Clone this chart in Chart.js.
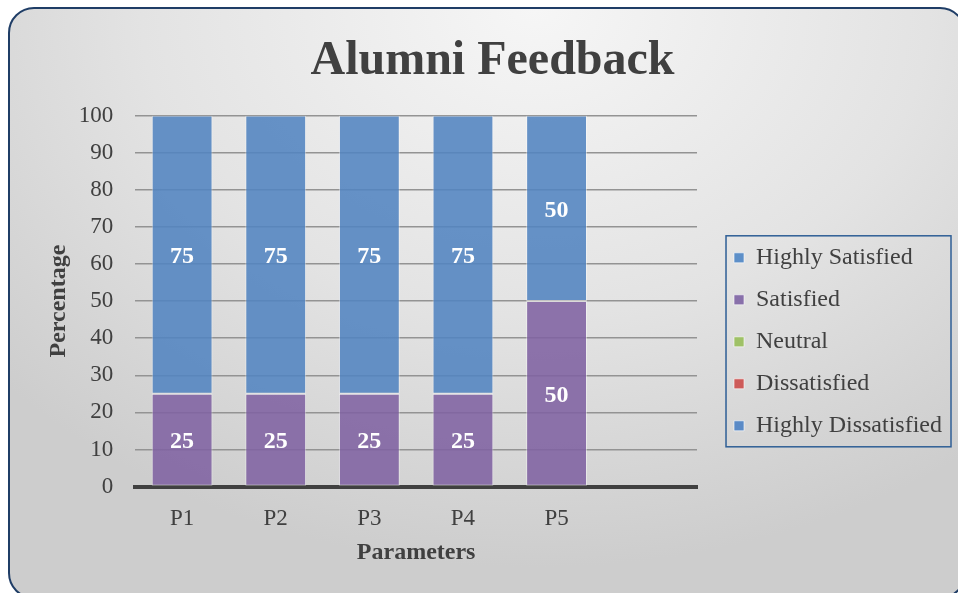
<!DOCTYPE html>
<html>
<head>
<meta charset="utf-8">
<script src="https://cdn.jsdelivr.net/npm/chart.js@4.4.1/dist/chart.umd.min.js"></script>
<style>
  html, body { margin: 0; padding: 0; background: #fff; }
  #wrap { position: relative; width: 958px; height: 593px; overflow: hidden; }
  #frame {
    position: absolute; left: 8px; top: 7px; width: 958px; height: 592px;
    box-sizing: border-box; border: 2px solid #1f3d66; border-radius: 26px;
    background: radial-gradient(ellipse 75% 95% at 55% 0%, #f6f6f6 0%, #e3e3e3 55%, #cdcdcd 100%);
  }
  #canvas { position: absolute; left: 0; top: 0; }
</style>
</head>
<body>
<div id="wrap">
  <div id="frame"></div>
  <canvas id="canvas" width="958" height="593"></canvas>
</div>
<script>
// categories (last slot is empty in the original)
var parameters = ['P1', 'P2', 'P3', 'P4', 'P5', ''];
// series values, in stacking order (bottom first)
var highlyDissatisfied = [0, 0, 0, 0, 0, null];
var dissatisfied = [0, 0, 0, 0, 0, null];
var neutral = [0, 0, 0, 0, 0, null];
var satisfied = [25, 25, 25, 25, 50, null];
var highlySatisfied = [75, 75, 75, 75, 50, null];
// y tick values
var yTicks = [0, 10, 20, 30, 40, 50, 60, 70, 80, 90, 100];

var serif = "'Liberation Serif', 'Times New Roman', serif";
var textColor = '#404040';

// white value labels in the middle of each segment
var barLabels = {
  id: 'barLabels',
  afterDatasetsDraw: function (chart) {
    var ctx = chart.ctx;
    ctx.save();
    ctx.fillStyle = '#ffffff';
    ctx.font = 'bold 24px ' + serif;
    ctx.textAlign = 'center';
    ctx.textBaseline = 'middle';
    chart.data.datasets.forEach(function (ds, i) {
      var meta = chart.getDatasetMeta(i);
      meta.data.forEach(function (el, j) {
        var v = ds.data[j];
        if (!v) return;
        ctx.fillText(v, el.x, (el.y + el.base) / 2 + 2);
      });
    });
    ctx.restore();
  }
};

// let the legend take the width its text needs, and sit below the title
var legendWide = {
  id: 'legendWide',
  afterInit: function (chart) {
    var lg = chart.legend;
    if (!lg) return;
    var fit = lg.fit;
    lg.fit = function () {
      this.maxWidth = 400;
      fit.call(this);
    };
  },
  afterLayout: function (chart) {
    var lg = chart.legend;
    if (!lg) return;
    lg.top = chart.chartArea.top;
    lg.height = lg.bottom - lg.top;
  }
};

// border around the legend entries
var legendBox = {
  id: 'legendBox',
  afterDraw: function (chart) {
    var boxes = chart.legend && chart.legend.legendHitBoxes;
    if (!boxes || !boxes.length) return;
    var l = Infinity, t = Infinity, r = -Infinity, b = -Infinity;
    boxes.forEach(function (h) {
      l = Math.min(l, h.left); t = Math.min(t, h.top);
      r = Math.max(r, h.left + h.width); b = Math.max(b, h.top + h.height);
    });
    var ctx = chart.ctx;
    ctx.save();
    ctx.strokeStyle = '#2f5f96';
    ctx.lineWidth = 1.5;
    ctx.strokeRect(l - 8, t - 10, (r - l) + 17, (b - t) + 19);
    ctx.restore();
  }
};

var ctx = document.getElementById('canvas').getContext('2d');
var myChart = new Chart(ctx, {
  type: 'bar',
  data: {
    labels: parameters,
    datasets: [
      { label: 'Highly Dissatisfied', data: highlyDissatisfied, backgroundColor: 'rgba(79,129,189,0.9)', legendColor: '#5a8ac6' },
      { label: 'Dissatisfied', data: dissatisfied, backgroundColor: 'rgba(192,80,77,0.9)', legendColor: '#cd5b59' },
      { label: 'Neutral', data: neutral, backgroundColor: 'rgba(155,187,89,0.9)', legendColor: '#9fc167' },
      { label: 'Satisfied', data: satisfied, backgroundColor: 'rgba(128,98,162,0.88)', legendColor: '#8870aa' },
      { label: 'Highly Satisfied', data: highlySatisfied, backgroundColor: 'rgba(82,132,192,0.88)', legendColor: '#5d8fc8' }
    ]
  },
  options: {
    responsive: false,
    animation: false,
    datasets: {
      bar: {
        categoryPercentage: 0.65,
        barPercentage: 1,
        borderWidth: 1,
        borderColor: 'rgba(255,255,255,0.45)',
        borderSkipped: false
      }
    },
    layout: { padding: { top: 8, left: 33, right: 6, bottom: 25 } },
    plugins: {
      title: {
        display: true,
        text: 'Alumni Feedback',
        color: textColor,
        font: { family: serif, size: 48, weight: 'bold' },
        padding: { top: 25, bottom: 25 }
      },
      legend: {
        position: 'right',
        reverse: true,
        labels: {
          color: textColor,
          font: { family: serif, size: 24 },
          boxWidth: 10,
          boxHeight: 10,
          padding: 18,
          generateLabels: function (chart) {
            return chart.data.datasets.map(function (ds, i) {
              return {
                text: ds.label,
                fillStyle: ds.legendColor,
                strokeStyle: 'rgba(255,255,255,0.6)',
                lineWidth: 1,
                fontColor: textColor,
                datasetIndex: i,
                hidden: false
              };
            });
          }
        }
      },
      tooltip: { enabled: false }
    },
    scales: {
      x: {
        stacked: true,
        z: 1,
        grid: { display: false, drawTicks: false },
        border: { display: true, color: '#404040', width: 4 },
        ticks: { color: textColor, font: { family: serif, size: 23 }, padding: 19 },
        title: {
          display: true, text: 'Parameters', color: textColor,
          font: { family: serif, size: 24, weight: 'bold' },
          padding: { top: -14, bottom: 1 }
        }
      },
      y: {
        stacked: true,
        min: 0,
        max: 100,
        afterBuildTicks: function (scale) {
          scale.ticks = yTicks.map(function (v) { return { value: v }; });
        },
        grid: { color: '#939393', lineWidth: 1.5, drawTicks: false },
        border: { display: false },
        ticks: { color: textColor, font: { family: serif, size: 23 }, padding: 22 },
        title: {
          display: true, text: 'Percentage', color: textColor,
          font: { family: serif, size: 24, weight: 'bold' },
          padding: { top: 11, bottom: -16 }
        }
      },
      // empty spacer between plot and legend
      gap: {
        type: 'linear',
        position: 'right',
        display: true,
        grid: { display: false },
        border: { display: false },
        ticks: { display: false },
        afterFit: function (scale) { scale.width = 19; }
      }
    }
  },
  plugins: [barLabels, legendWide, legendBox]
});
</script>
</body>
</html>
